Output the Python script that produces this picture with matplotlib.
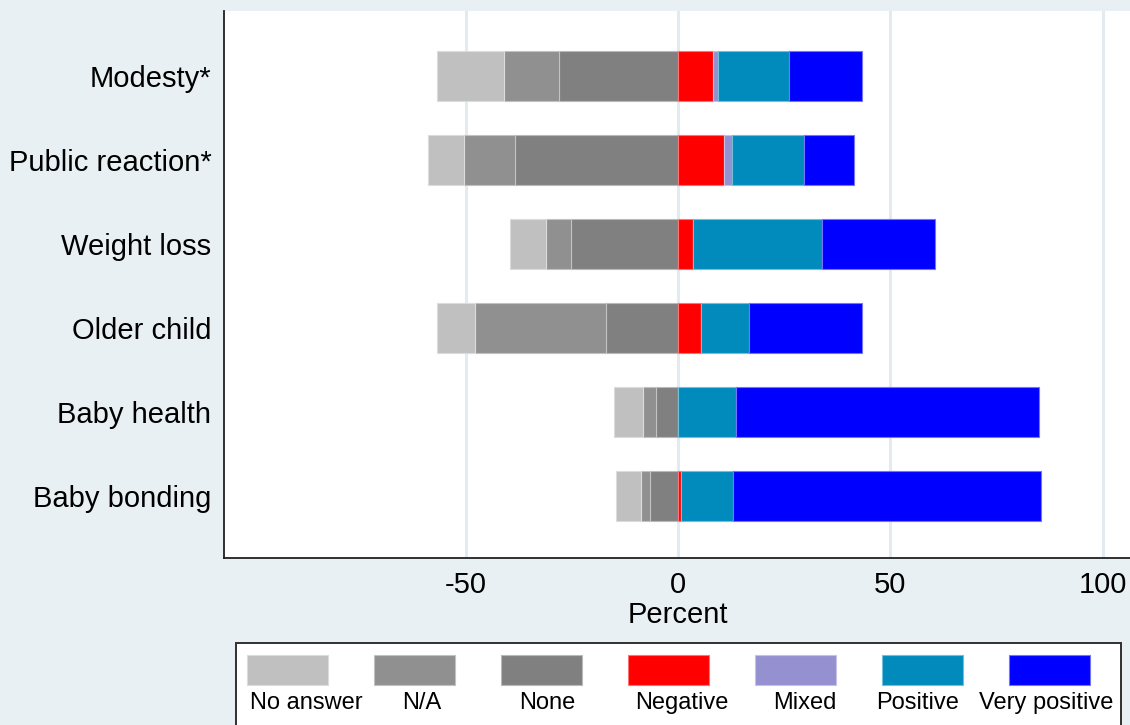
import matplotlib
matplotlib.use("Agg")
import matplotlib.pyplot as plt
from matplotlib.patches import Rectangle
from matplotlib.colors import to_rgb
import numpy as np

# Survey items (top to bottom) and response shares in percent
items = ["Modesty*", "Public reaction*", "Weight loss", "Older child", "Baby health", "Baby bonding"]

no_answer = [15.8, 8.3, 8.4, 8.9, 6.8, 5.8]
not_applicable = [13.0, 12.1, 5.8, 30.9, 3.1, 2.2]
none = [28.0, 38.4, 25.3, 17.0, 5.1, 6.6]
negative = [8.3, 10.9, 3.6, 5.3, 0.0, 0.7]
mixed = [1.1, 1.7, 0.0, 0.0, 0.0, 0.0]
positive = [16.8, 17.1, 30.3, 11.4, 13.6, 12.3]
very_positive = [17.2, 11.7, 26.7, 26.7, 71.5, 72.6]

categories = ["No answer", "N/A", "None", "Negative", "Mixed", "Positive", "Very positive"]
colors = ["#C0C0C0", "#909090", "#808080", "#FF0000", "#9590D0", "#008BBC", "#0000FF"]

xticks = [-50, 0, 50, 100]

BG = "#E8F0F3"
GRID = "#E2EBEF"
FONT = ["Liberation Sans", "Arial", "DejaVu Sans"]

plt.rcParams["font.family"] = FONT


def edge_of(c, k=0.45):
    r, g, b = to_rgb(c)
    return (r + (1 - r) * k, g + (1 - g) * k, b + (1 - b) * k)


fig = plt.figure(figsize=(11.30, 7.25), dpi=100, facecolor=BG)
ax = fig.add_axes([0.1981, 0.2303, 0.8039, 0.7545])
ax.set_facecolor("white")

ypos = np.arange(len(items))[::-1]  # first item at the top
bar_h = 0.6

# left side: stacked outward from zero (None nearest the centre)
left_series = [none, not_applicable, no_answer]
left_colors = [colors[2], colors[1], colors[0]]
cum = np.zeros(len(items))
for vals, col in zip(left_series, left_colors):
    v = np.array(vals)
    ax.barh(ypos, -v, left=-cum, height=bar_h, color=col,
            edgecolor=edge_of(col), linewidth=0.8, zorder=3)
    cum += v

# right side: stacked outward from zero
right_series = [negative, mixed, positive, very_positive]
right_colors = colors[3:]
cum = np.zeros(len(items))
for vals, col in zip(right_series, right_colors):
    v = np.array(vals)
    ax.barh(ypos, v, left=cum, height=bar_h, color=col,
            edgecolor=edge_of(col), linewidth=0.8, zorder=3)
    cum += v

ax.set_xlim(-107, 107)
ax.set_ylim(-0.738, 5.774)
ax.set_xticks(xticks)
ax.set_xticklabels([str(t) for t in xticks], fontsize=21)
ax.set_yticks(ypos)
ax.set_yticklabels(items, fontsize=21)
ax.tick_params(axis="both", length=0)
ax.tick_params(axis="y", pad=9)
ax.tick_params(axis="x", pad=9)
ax.set_xlabel("Percent", fontsize=21, labelpad=2)

ax.xaxis.grid(True, color=GRID, linewidth=2.2, zorder=0)
ax.set_axisbelow(True)

for side in ["top", "right"]:
    ax.spines[side].set_visible(False)
for side in ["left", "bottom"]:
    ax.spines[side].set_color("#202020")
    ax.spines[side].set_linewidth(1.3)

# legend panel drawn in figure pixel coordinates
lg = fig.add_axes([0, 0, 1, 1], facecolor="none")
lg.set_xlim(0, 1130)
lg.set_ylim(725, 0)
lg.axis("off")
lg.add_patch(Rectangle((236, 643), 885, 100, facecolor="white",
                       edgecolor="#303030", linewidth=1.4, clip_on=False))
key_left = [247, 374, 501, 628, 755, 882, 1009]
label_x = [306, 422, 547, 682, 805, 918, 1046]
for cat, col, kx, tx in zip(categories, colors, key_left, label_x):
    lg.add_patch(Rectangle((kx, 655), 81, 30, facecolor=col,
                           edgecolor=edge_of(col), linewidth=0.8))
    lg.text(tx, 703, cat, ha="center", va="center", fontsize=17)

fig.savefig("out.png", dpi=100, facecolor=BG)
